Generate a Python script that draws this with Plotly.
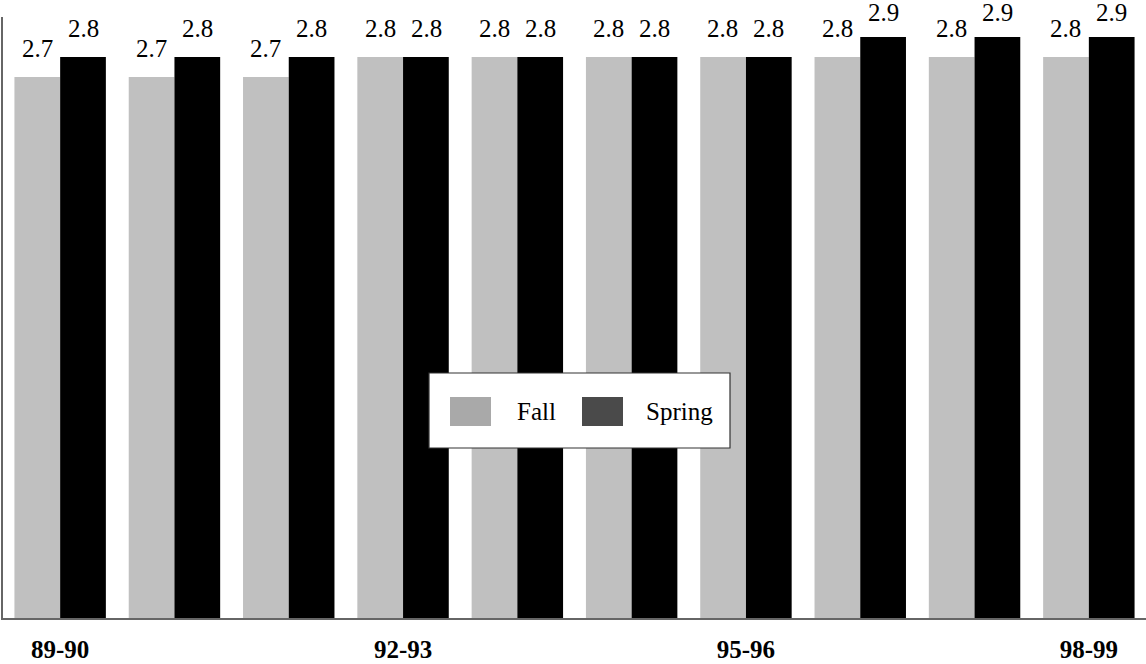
import plotly.graph_objects as go

# data
seasons = ["89-90", "90-91", "91-92", "92-93", "93-94",
           "94-95", "95-96", "96-97", "97-98", "98-99"]
fall = [2.7, 2.7, 2.7, 2.8, 2.8, 2.8, 2.8, 2.8, 2.8, 2.8]
spring = [2.8, 2.8, 2.8, 2.8, 2.8, 2.8, 2.8, 2.9, 2.9, 2.9]
shown_ticks = ["89-90", "92-93", "95-96", "98-99"]

W, H = 1146, 664
L, R, T, B = 3, 0, 17, 46
SERIF = "Liberation Serif"
top_val = max(fall + spring)


def px_to_paper(x, y):
    return (x - L) / (W - L - R), (H - B - y) / (H - T - B)


fig = go.Figure()
fig.add_trace(go.Bar(x=seasons, y=fall, name="Fall", marker_color="#c0c0c0",
                     marker_line_width=0, showlegend=False))
fig.add_trace(go.Bar(x=seasons, y=spring, name="Spring", marker_color="#000000",
                     marker_line_width=0, showlegend=False))

# value labels above bars (the tallest ones get squeezed against the top edge)
annotations = []
for s, f, p in zip(seasons, fall, spring):
    for val, shift in ((f, -23), (p, 23)):
        annotations.append(dict(x=s, y=val, text=f"{val:.1f}", showarrow=False,
                                xshift=shift, yshift=9 if val >= top_val else 13,
                                yanchor="bottom",
                                font=dict(family=SERIF, size=25, color="black")))

# legend box drawn by hand (swatches are bigger than plotly's own)
shapes = []
x0, y0 = px_to_paper(429, 448)
x1, y1 = px_to_paper(730, 373)
shapes.append(dict(type="rect", xref="paper", yref="paper", x0=x0, y0=y0, x1=x1, y1=y1,
                   fillcolor="white", line=dict(color="#333333", width=1.2), layer="above"))
for (sx, label, tx, col) in ((450, "Fall", 515, "#a9a9a9"), (582, "Spring", 644, "#4a4a4a")):
    a0, b0 = px_to_paper(sx, 426)
    a1, b1 = px_to_paper(sx + 41, 397)
    shapes.append(dict(type="rect", xref="paper", yref="paper", x0=a0, y0=b0, x1=a1, y1=b1,
                       fillcolor=col, line=dict(width=0), layer="above"))
    ax, ay = px_to_paper(tx, 411)
    annotations.append(dict(x=ax, y=ay, xref="paper", yref="paper", text=label,
                            showarrow=False, xanchor="left", yanchor="middle",
                            font=dict(family=SERIF, size=25, color="black")))

fig.update_layout(
    width=W, height=H,
    margin=dict(l=L, r=R, t=T, b=B),
    barmode="group", bargap=0.2, bargroupgap=0,
    plot_bgcolor="white", paper_bgcolor="white",
    showlegend=False,
    annotations=annotations,
    shapes=shapes,
    xaxis=dict(tickvals=shown_ticks, ticktext=[f"<b>{t}</b>" for t in shown_ticks],
               tickfont=dict(family=SERIF, size=25, color="black"),
               ticklabelstandoff=8,
               showline=True, linecolor="#666666", linewidth=1.5,
               ticks="", showgrid=False, fixedrange=True),
    yaxis=dict(range=[0, 3.0], showticklabels=False, ticks="", showgrid=False,
               zeroline=False, showline=True, linecolor="#666666", linewidth=1.5),
)

fig.write_html("out.html", config={"displayModeBar": False},
               post_script="document.body.style.margin='0';")
